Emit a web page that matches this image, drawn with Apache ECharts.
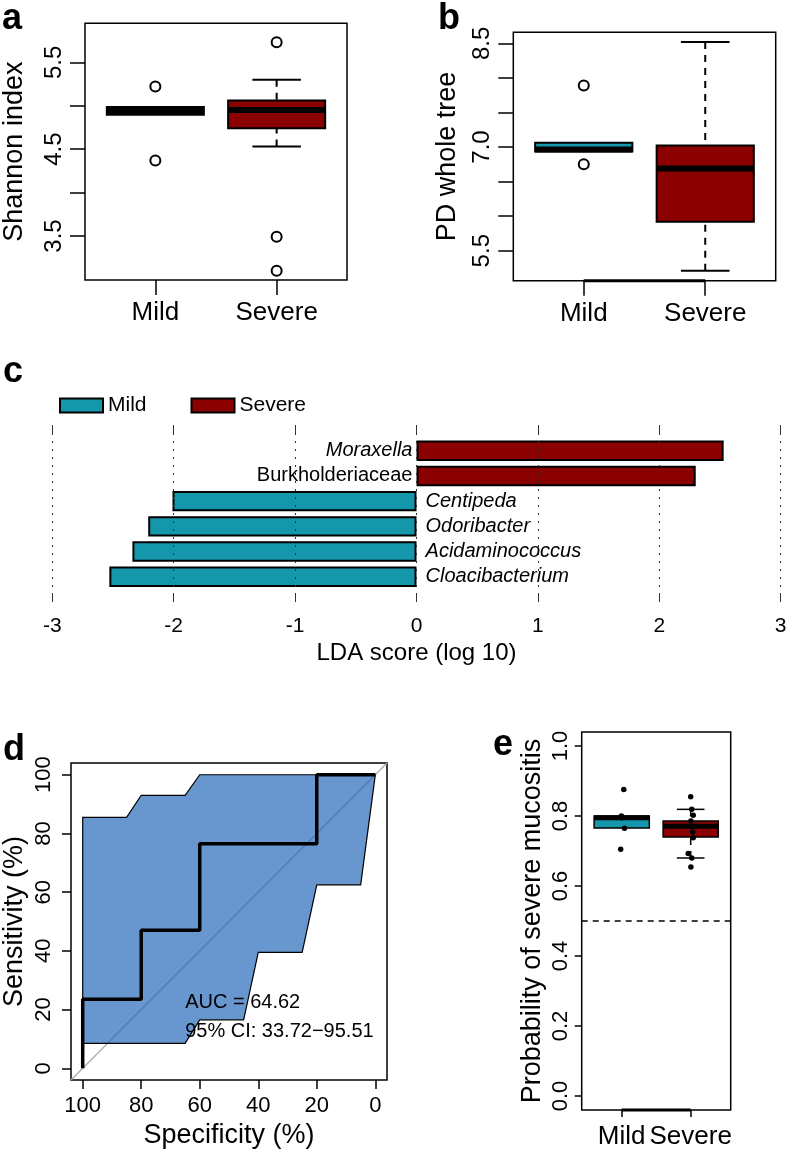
<!DOCTYPE html>
<html><head><meta charset="utf-8">
<script src="https://cdn.jsdelivr.net/npm/echarts@6/dist/echarts.min.js"></script>
<style>html,body{margin:0;padding:0;background:#fff}#chart{width:791px;height:1150px}</style>
</head><body><div id="chart"></div>
<script>
// ---------- data ----------
const groups = ['Mild', 'Severe'];
const groupColors = ['#1497AA', '#8B0000'];

// a: Shannon index  [lowerWhisker, Q1, median, Q3, upperWhisker]
const shannonBoxMild = [4.895, 4.895, 4.94, 4.985, 4.985];
const shannonBoxSevere = [4.53, 4.74, 4.95, 5.06, 5.30];
const shannonOutMild = [5.22, 4.37];
const shannonOutSevere = [5.73, 3.49, 3.10];
const shannonTicks = [3.5, 4.0, 4.5, 5.0, 5.5];
const shannonTickLabels = [3.5, 4.5, 5.5];

// b: PD whole tree
const pdBoxMild = [6.935, 6.935, 6.965, 7.06, 7.06];
const pdBoxSevere = [5.21, 5.92, 6.69, 7.02, 8.52];
const pdOutMild = [7.89, 6.75];
const pdOutSevere = [];
const pdTicks = [5.5, 6.0, 6.5, 7.0, 7.5, 8.0, 8.5];
const pdTickLabels = [5.5, 7.0, 8.5];

// c: LDA scores
const ldaTaxa = ['Moraxella', 'Burkholderiaceae', 'Centipeda', 'Odoribacter', 'Acidaminococcus', 'Cloacibacterium'];
const ldaScores = [2.53, 2.30, -2.01, -2.21, -2.34, -2.53];
const ldaGroup = ['Severe', 'Severe', 'Mild', 'Mild', 'Mild', 'Mild'];
const ldaRank = ['genus', 'family', 'genus', 'genus', 'genus', 'genus'];

// d: ROC curve (specificity %, sensitivity %)
const rocSpec = [100, 100, 80, 80, 60, 60, 20, 20, 0];
const rocSens = [0, 23.5, 23.5, 47, 47, 76.5, 76.5, 100, 100];
const ciUpperSpec = [100, 85, 80, 65, 60, 0];
const ciUpperSens = [85.5, 85.5, 93, 93, 100, 100];
const ciLowerSpec = [0, 5, 20, 25, 40, 45, 60, 65, 100];
const ciLowerSens = [100, 62.5, 62.5, 39.5, 39.5, 16.5, 16.5, 8.5, 8.5];
const rocTicks = [0, 20, 40, 60, 80, 100];
const aucText = 'AUC = 64.62';
const ciText = '95% CI: 33.72\u221295.51';

// e: predicted probability
const probBoxMild = [0.766, 0.766, 0.795, 0.800, 0.800];
const probBoxSevere = [0.680, 0.740, 0.771, 0.786, 0.819];
const probMild = [0.876, 0.800, 0.795, 0.765, 0.705];
const probMildJitter = [0.03, -0.005, 0.0, 0.04, -0.015];
const probSevere = [0.855, 0.819, 0.802, 0.786, 0.771, 0.754, 0.738, 0.693, 0.680, 0.654];
const probSevereJitter = [0.0, 0.015, 0.037, 0.003, 0.02, 0.028, 0.037, -0.036, 0.015, 0.003];
const probTicks = [0, 0.2, 0.4, 0.6, 0.8, 1.0];
const probThreshold = 0.5;

// ---------- helpers ----------
const FONT = "'Liberation Sans', Arial, sans-serif";
const catFmt = v => groups[Math.round(v) - 1] || '';
const tickLine = { color: '#000', width: 1.5 };
const noLine = { show: false, onZero: false };
const hidden = { color: 'rgba(0,0,0,0)', opacity: 1 };

function boxRenderer(medW, bw) {
  return function (params, api) {
    const x = api.value(0);
    const lw = api.value(1), q1 = api.value(2), md = api.value(3), q3 = api.value(4), uw = api.value(5);
    const tl = api.coord([x - 0.4, q3]);
    const br = api.coord([x + 0.4, q1]);
    const cx = api.coord([x, md])[0];
    const capL = api.coord([x - 0.2, md])[0], capR = api.coord([x + 0.2, md])[0];
    const yMd = api.coord([x, md])[1], yUw = api.coord([x, uw])[1], yLw = api.coord([x, lw])[1];
    const solid = { stroke: '#000', lineWidth: bw };
    const dashed = { stroke: '#000', lineWidth: bw, lineDash: [7, 6] };
    const ch = [];
    if (uw > q3) {
      ch.push({ type: 'line', shape: { x1: cx, y1: yUw, x2: cx, y2: tl[1] }, style: dashed });
      ch.push({ type: 'line', shape: { x1: capL, y1: yUw, x2: capR, y2: yUw }, style: solid });
    }
    if (lw < q1) {
      ch.push({ type: 'line', shape: { x1: cx, y1: yLw, x2: cx, y2: br[1] }, style: dashed });
      ch.push({ type: 'line', shape: { x1: capL, y1: yLw, x2: capR, y2: yLw }, style: solid });
    }
    ch.push({ type: 'rect', shape: { x: tl[0], y: tl[1], width: br[0] - tl[0], height: br[1] - tl[1] },
      style: { fill: groupColors[params.dataIndex], stroke: '#000', lineWidth: bw } });
    ch.push({ type: 'line', shape: { x1: tl[0], y1: yMd, x2: br[0], y2: yMd }, style: { stroke: '#000', lineWidth: medW } });
    return { type: 'group', children: ch };
  };
}
function outliers(mild, severe) {
  return mild.map(v => [1, v]).concat(severe.map(v => [2, v]));
}
function catXAxis(grid, tickLen, fs, margin) {
  return { gridIndex: grid, type: 'value', min: 0.42, max: 2.58,
    axisLine: noLine, splitLine: { show: false },
    axisTick: { customValues: [1, 2], length: tickLen, lineStyle: tickLine },
    axisLabel: { customValues: [1, 2], formatter: catFmt, fontSize: fs, margin: margin, color: '#000' } };
}
function valYAxis(grid, min, max, ticks, labels, tickLen, fs, margin, name, gap, fmt) {
  return { gridIndex: grid, type: 'value', min: min, max: max,
    axisLine: noLine, splitLine: { show: false },
    axisTick: { customValues: ticks, length: tickLen, lineStyle: tickLine },
    axisLabel: { customValues: labels, rotate: 90, fontSize: fs, margin: margin, color: '#000', formatter: fmt },
    name: name, nameLocation: 'middle', nameGap: gap, nameTextStyle: { fontSize: 27, color: '#000' } };
}
const border = { show: true, borderColor: '#000', borderWidth: 1.5, backgroundColor: 'transparent' };
const letter = (t, l, tp) => ({ text: t, left: l, top: tp, padding: 0,
  textStyle: { fontSize: 36, fontWeight: 'bold', color: '#000', fontFamily: FONT } });

const ciPoly = ciUpperSpec.map((s, i) => [s, ciUpperSens[i]]).concat(ciLowerSpec.map((s, i) => [s, ciLowerSens[i]]));

const option = {
  animation: false,
  backgroundColor: '#fff',
  textStyle: { fontFamily: FONT, color: '#000' },
  title: [letter('a', 2, 1), letter('b', 438, 1), letter('c', 3, 354), letter('d', 3, 732), letter('e', 493, 727)],
  legend: { data: ['Mild', 'Severe'], left: 59, top: 395, padding: 0, itemWidth: 43, itemHeight: 14, itemGap: 44,
    icon: 'rect', selectedMode: false, textStyle: { fontSize: 21, color: '#000' },
    itemStyle: { borderColor: '#000', borderWidth: 2 } },
  grid: [
    Object.assign({ left: 84, top: 23.3, width: 263, height: 256.7 }, border),
    Object.assign({ left: 513.3, top: 32.3, width: 262.4, height: 248.4 }, border),
    { left: 52.3, top: 438.2, width: 728.4, height: 151.1, show: false },
    { left: 52.3, top: 425, width: 728.4, height: 177, show: false },
    Object.assign({ left: 70, top: 763, width: 317, height: 317 }, border),
    Object.assign({ left: 581.7, top: 732, width: 149, height: 379 }, border)
  ],
  xAxis: [
    catXAxis(0, 15, 26, 20),
    catXAxis(1, 15, 26, 20),
    { gridIndex: 2, type: 'value', min: -3, max: 3, show: false, axisLine: noLine },
    { gridIndex: 3, type: 'value', min: -3, max: 3, interval: 1, position: 'bottom', z: 5,
      axisLine: noLine,
      axisTick: { inside: true, length: 9, lineStyle: { color: '#333' } },
      splitLine: { show: true, lineStyle: { color: '#333', type: [2, 6], width: 1 } },
      axisLabel: { fontSize: 21, margin: 14, color: '#000' },
      name: 'LDA score (log 10)', nameLocation: 'middle', nameGap: 39, nameTextStyle: { fontSize: 24, color: '#000' } },
    { gridIndex: 3, type: 'value', min: -3, max: 3, interval: 1, position: 'top', z: 5,
      axisLine: noLine, axisLabel: { show: false }, splitLine: { show: false },
      axisTick: { inside: true, length: 10, lineStyle: { color: '#333' } } },
    { gridIndex: 4, type: 'value', inverse: true, min: -4, max: 104,
      axisLine: noLine, splitLine: { show: false },
      axisTick: { customValues: rocTicks, length: 9, lineStyle: tickLine },
      axisLabel: { customValues: rocTicks, fontSize: 22, margin: 15, color: '#000' },
      name: 'Specificity (%)', nameLocation: 'middle', nameGap: 42, nameTextStyle: { fontSize: 27, color: '#000' } },
    catXAxis(5, 7, 26, 14)
  ],
  yAxis: [
    valYAxis(0, 2.993, 5.949, shannonTicks, shannonTickLabels, 15, 24, 19, 'Shannon index', 57, v => v.toFixed(1)),
    valYAxis(1, 5.066, 8.659, pdTicks, pdTickLabels, 15, 24, 19, 'PD whole tree', 52, v => v.toFixed(1)),
    { gridIndex: 2, type: 'category', data: ldaTaxa, inverse: true, show: false, axisLine: noLine },
    { gridIndex: 3, type: 'value', min: 0, max: 1, show: false, axisLine: noLine },
    valYAxis(4, -4, 104, rocTicks, rocTicks, 9, 22, 16, 'Sensitivity (%)', 43, v => String(v)),
    valYAxis(5, -0.04, 1.04, probTicks, probTicks, 7, 22, 10, 'Probability of severe mucositis', 36, v => v.toFixed(1))
  ],
  series: [
    // a
    { type: 'custom', name: 'shannonBox', xAxisIndex: 0, yAxisIndex: 0, renderItem: boxRenderer(6, 2),
      encode: { x: 0, y: [1, 2, 3, 4, 5] }, data: [[1].concat(shannonBoxMild), [2].concat(shannonBoxSevere)], z: 2 },
    { type: 'scatter', name: 'shannonOut', xAxisIndex: 0, yAxisIndex: 0, symbolSize: 10,
      itemStyle: { color: 'rgba(0,0,0,0)', borderColor: '#000', borderWidth: 2, opacity: 1 },
      data: outliers(shannonOutMild, shannonOutSevere), z: 3 },
    // b
    { type: 'custom', name: 'pdBox', xAxisIndex: 1, yAxisIndex: 1, renderItem: boxRenderer(6, 2),
      encode: { x: 0, y: [1, 2, 3, 4, 5] }, data: [[1].concat(pdBoxMild), [2].concat(pdBoxSevere)], z: 2 },
    { type: 'scatter', name: 'pdOut', xAxisIndex: 1, yAxisIndex: 1, symbolSize: 10,
      itemStyle: { color: 'rgba(0,0,0,0)', borderColor: '#000', borderWidth: 2, opacity: 1 },
      data: outliers(pdOutMild, pdOutSevere), z: 3 },
    { type: 'line', name: 'pdAxis', xAxisIndex: 1, yAxisIndex: 1, clip: false, symbol: 'none', silent: true,
      lineStyle: { color: '#000', width: 3 }, data: [[1, 5.066], [2, 5.066]], z: 4 },
    // c
    { type: 'bar', name: 'Mild', xAxisIndex: 2, yAxisIndex: 2, barWidth: '81%', barGap: '-100%',
      itemStyle: { color: groupColors[0], borderColor: '#000', borderWidth: 2 },
      data: ldaScores.map((v, i) => ldaGroup[i] === 'Mild' ? v : '-') },
    { type: 'bar', name: 'Severe', xAxisIndex: 2, yAxisIndex: 2, barWidth: '81%', barGap: '-100%',
      itemStyle: { color: groupColors[1], borderColor: '#000', borderWidth: 2 },
      data: ldaScores.map((v, i) => ldaGroup[i] === 'Severe' ? v : '-') },
    { type: 'scatter', name: 'ldaLabels', xAxisIndex: 2, yAxisIndex: 2, symbolSize: 0.1, silent: true, z: 6,
      itemStyle: hidden,
      data: ldaTaxa.map((t, i) => ({ value: [0, i], label: { show: true, formatter: t,
        position: ldaGroup[i] === 'Severe' ? 'left' : 'right', distance: ldaGroup[i] === 'Severe' ? 4 : 9,
        fontStyle: ldaRank[i] === 'genus' ? 'italic' : 'normal', fontSize: 20, color: '#000', opacity: 1 } })) },
    // d
    { type: 'line', name: 'diagonal', xAxisIndex: 5, yAxisIndex: 4, symbol: 'none', silent: true,
      lineStyle: { color: '#A9A9A9', width: 1.2 }, data: [[104, -4], [-4, 104]], z: 1 },
    { type: 'custom', name: 'ciShape', xAxisIndex: 5, yAxisIndex: 4, encode: { x: 0, y: 1 }, data: ciPoly, z: 2,
      renderItem: function (params, api) {
        if (params.dataIndex !== 0) return null;
        const pts = ciPoly.map(p => api.coord(p));
        return { type: 'polygon', shape: { points: pts }, style: { fill: 'rgba(28,97,182,0.667)', stroke: '#000', lineWidth: 1.2 } };
      } },
    { type: 'line', name: 'roc', xAxisIndex: 5, yAxisIndex: 4, symbol: 'none', clip: false,
      lineStyle: { color: '#000', width: 3.5 }, data: rocSpec.map((s, i) => [s, rocSens[i]]), z: 3 },
    { type: 'scatter', name: 'aucText', xAxisIndex: 5, yAxisIndex: 4, symbolSize: 0.1, silent: true, z: 4,
      itemStyle: hidden,
      label: { show: true, position: 'right', distance: 0, fontSize: 20, color: '#000', opacity: 1 },
      data: [{ value: [65, 22.5], label: { formatter: aucText } }, { value: [65, 12.5], label: { formatter: ciText } }] },
    // e
    { type: 'custom', name: 'probBox', xAxisIndex: 6, yAxisIndex: 5, renderItem: boxRenderer(5, 1.5),
      encode: { x: 0, y: [1, 2, 3, 4, 5] }, data: [[1].concat(probBoxMild), [2].concat(probBoxSevere)], z: 2 },
    { type: 'scatter', name: 'probPoints', xAxisIndex: 6, yAxisIndex: 5, symbolSize: 5.5,
      itemStyle: { color: '#000', opacity: 1 }, z: 3,
      data: probMild.map((v, i) => [1 + probMildJitter[i], v]).concat(probSevere.map((v, i) => [2 + probSevereJitter[i], v])),
      markLine: { silent: true, symbol: 'none', label: { show: false },
        lineStyle: { color: '#000', type: [6, 5], width: 1.5, opacity: 1 }, data: [{ yAxis: probThreshold }] } },
    { type: 'line', name: 'probAxis', xAxisIndex: 6, yAxisIndex: 5, clip: false, symbol: 'none', silent: true,
      lineStyle: { color: '#000', width: 3 }, data: [[1, -0.04], [2, -0.04]], z: 4 }
  ]
};
const chart = echarts.init(document.getElementById('chart'), null, { renderer: 'canvas' });
chart.setOption(option);
</script></body></html>
